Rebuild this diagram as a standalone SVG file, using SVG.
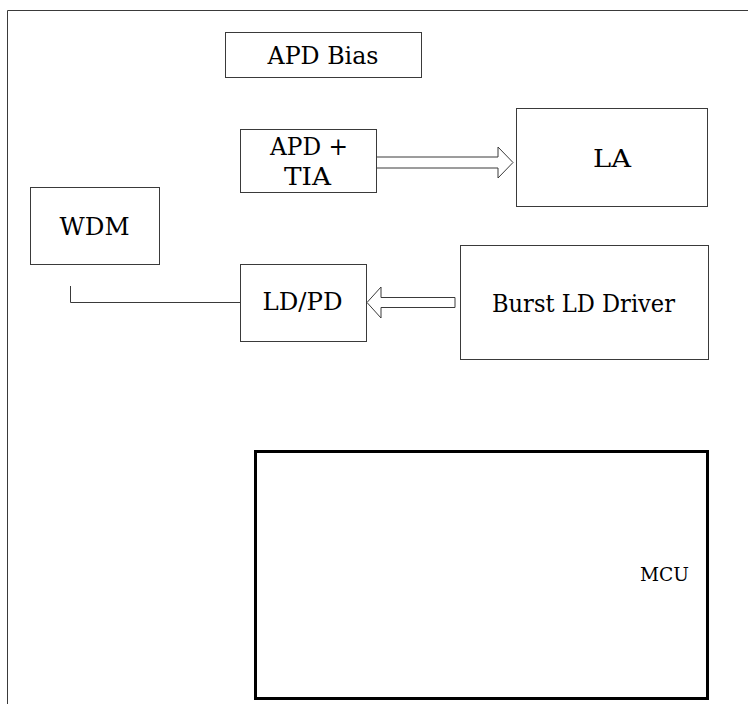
<svg xmlns="http://www.w3.org/2000/svg" width="748" height="704" viewBox="0 0 748 704">
<style>
.box{fill:#fff;stroke:#3a3a3a;stroke-width:1}
.conn{fill:#fff;stroke:#3a3a3a;stroke-width:1}
.wire{fill:none;stroke:#3a3a3a;stroke-width:1}
text{font-family:'DejaVu Serif','Noto Serif',serif;font-size:25px;fill:#000}
text.sm{font-size:19px}
</style>
<rect x="0" y="0" width="748" height="704" fill="#fff"/>
<path class="wire" d="M7.5 704 V10.5 H748" stroke-width="1.5"/>
<g id="apd-bias">
<rect class="box" x="225.5" y="32.5" width="196" height="45"/>
<text x="323" y="64" text-anchor="middle" textLength="111" lengthAdjust="spacingAndGlyphs">APD Bias</text>
</g>
<g id="apd-tia">
<rect class="box" x="240.5" y="129.5" width="136" height="63"/>
<text x="309" y="155" text-anchor="middle" textLength="78" lengthAdjust="spacingAndGlyphs">APD +</text>
<text x="307.5" y="185" text-anchor="middle" textLength="47" lengthAdjust="spacingAndGlyphs">TIA</text>
</g>
<g id="la">
<rect class="box" x="516.5" y="108.5" width="191" height="98"/>
<text x="612" y="167" text-anchor="middle" textLength="38" lengthAdjust="spacingAndGlyphs">LA</text>
</g>
<g id="wdm">
<rect class="box" x="30.5" y="187.5" width="129" height="77"/>
<text x="94.5" y="235" text-anchor="middle" textLength="70" lengthAdjust="spacingAndGlyphs">WDM</text>
</g>
<g id="ldpd">
<rect class="box" x="240.5" y="264.5" width="126" height="77"/>
<text x="302.5" y="310" text-anchor="middle" textLength="80" lengthAdjust="spacingAndGlyphs">LD/PD</text>
</g>
<g id="burst-ld-driver">
<rect class="box" x="460.5" y="245.5" width="248" height="114"/>
<text x="583.5" y="311.5" text-anchor="middle" textLength="183" lengthAdjust="spacingAndGlyphs">Burst LD Driver</text>
</g>
<g id="mcu">
<rect x="255.5" y="451.5" width="452" height="247" fill="#fff" stroke="#000" stroke-width="3"/>
<text class="sm" x="640" y="581" textLength="49" lengthAdjust="spacingAndGlyphs">MCU</text>
</g>
<g id="connectors">
<polygon class="conn" points="376.5,157 498,157 498,147 513,162.5 498,178 498,168 376.5,168"/>
<polygon class="conn" points="455,297.5 381,297.5 381,287 367,302.5 381,318 381,307.5 455,307.5"/>
<path class="wire" d="M70.5 286 V302.5 H240.5"/>
</g>
</svg>
